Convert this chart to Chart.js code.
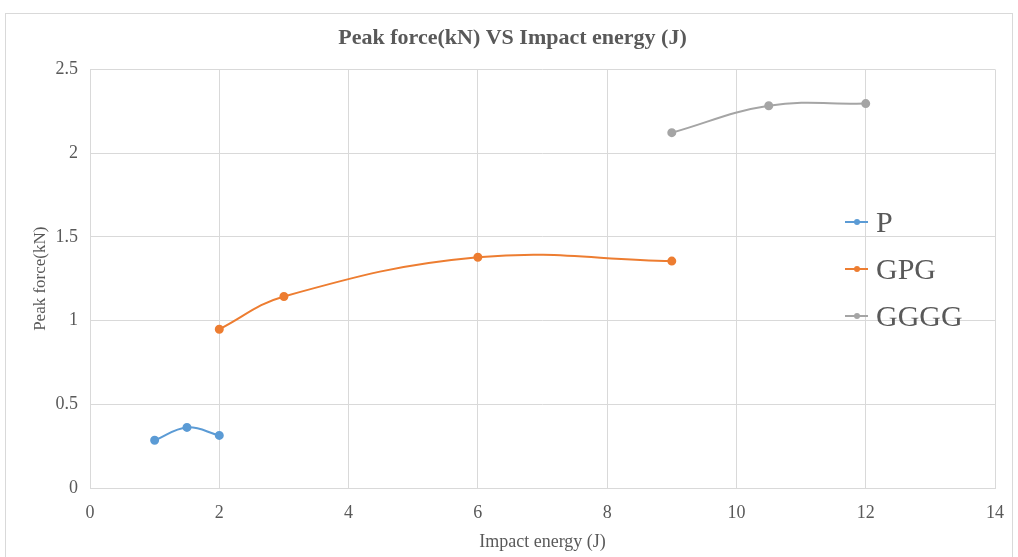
<!DOCTYPE html>
<html>
<head>
<meta charset="utf-8">
<script src="https://cdn.jsdelivr.net/npm/chart.js@4"></script>
<style>
  html, body { margin: 0; padding: 0; background: #fff; }
  #wrap { width: 1018px; height: 557px; }
</style>
</head>
<body>
<div id="wrap"><canvas id="myChart" width="1018" height="557"></canvas></div>
<script>
const pEnergy = [1, 1.5, 2];
const pForce = [0.285, 0.362, 0.314];
const gpgEnergy = [2, 3, 6, 9];
const gpgForce = [0.948, 1.144, 1.378, 1.355];
const ggggEnergy = [9, 10.5, 12];
const ggggForce = [2.122, 2.283, 2.296];
const xTicks = [0, 2, 4, 6, 8, 10, 12, 14];
const yTicks = [0, 0.5, 1, 1.5, 2, 2.5];

const toPoints = (xs, ys) => xs.map((x, i) => ({ x: x, y: ys[i] }));
const textColor = '#595959';
const serif = "'Liberation Serif', 'DejaVu Serif', serif";

function series(label, xs, ys, color) {
  return {
    label: label,
    data: toPoints(xs, ys),
    borderColor: color,
    backgroundColor: color,
    borderWidth: 2,
    pointRadius: 3.5,
    pointHoverRadius: 3.5,
    showLine: true,
    tension: 0.4,
    fill: false
  };
}

// border round the chart, like the spreadsheet frame
const frame = {
  id: 'frame',
  beforeDraw(chart) {
    const ctx = chart.ctx;
    ctx.save();
    ctx.fillStyle = '#fff';
    ctx.fillRect(0, 0, chart.width, chart.height);
    ctx.strokeStyle = '#d9d9d9';
    ctx.lineWidth = 1;
    ctx.strokeRect(5.5, 13.5, 1007, 560);
    ctx.restore();
  }
};

// legend drawn over the plot on the right side
const sideLegend = {
  id: 'sideLegend',
  afterDraw(chart) {
    const ctx = chart.ctx;
    ctx.save();
    ctx.font = '30px ' + serif;
    ctx.textBaseline = 'middle';
    chart.data.datasets.forEach((ds, i) => {
      const y = 222 + i * 47;
      ctx.strokeStyle = ds.borderColor;
      ctx.lineWidth = 2;
      ctx.beginPath();
      ctx.moveTo(845, y);
      ctx.lineTo(868, y);
      ctx.stroke();
      ctx.fillStyle = ds.borderColor;
      ctx.beginPath();
      ctx.arc(857, y, 3, 0, Math.PI * 2);
      ctx.fill();
      ctx.fillStyle = textColor;
      ctx.fillText(ds.label, 876, y + 2);
    });
    ctx.restore();
  }
};

new Chart(document.getElementById('myChart'), {
  type: 'scatter',
  data: {
    datasets: [
      series('P', pEnergy, pForce, '#5b9bd5'),
      series('GPG', gpgEnergy, gpgForce, '#ed7d31'),
      series('GGGG', ggggEnergy, ggggForce, '#a5a5a5')
    ]
  },
  options: {
    responsive: false,
    animation: false,
    layout: { padding: { left: 26, right: 19, top: 0, bottom: 0 } },
    plugins: {
      legend: { display: false },
      tooltip: { enabled: false },
      title: {
        display: true,
        text: 'Peak force(kN) VS Impact energy (J)',
        color: textColor,
        font: { family: serif, size: 22, weight: 'bold' },
        padding: { top: 25, bottom: 18 }
      }
    },
    scales: {
      x: {
        type: 'linear',
        min: 0,
        max: 14,
        afterBuildTicks: s => { s.ticks = xTicks.map(v => ({ value: v })); },
        afterFit: s => { s.height = 69; },
        grid: { color: '#d9d9d9', drawTicks: false },
        border: { color: '#d9d9d9' },
        ticks: { color: textColor, font: { family: serif, size: 18 }, padding: 14 },
        title: {
          display: true,
          text: 'Impact energy (J)',
          color: textColor,
          font: { family: serif, size: 18 },
          padding: { top: 2 }
        }
      },
      y: {
        min: 0,
        max: 2.5,
        afterBuildTicks: s => { s.ticks = yTicks.map(v => ({ value: v })); },
        afterFit: s => { s.width = 64; },
        grid: { color: '#d9d9d9', drawTicks: false },
        border: { display: false },
        ticks: {
          color: textColor,
          font: { family: serif, size: 18 },
          padding: 12,
          callback: v => String(v)
        },
        title: {
          display: true,
          text: 'Peak force(kN)',
          color: textColor,
          font: { family: serif, size: 17 },
          padding: { bottom: 0 }
        }
      }
    }
  },
  plugins: [frame, sideLegend]
});
</script>
</body>
</html>
